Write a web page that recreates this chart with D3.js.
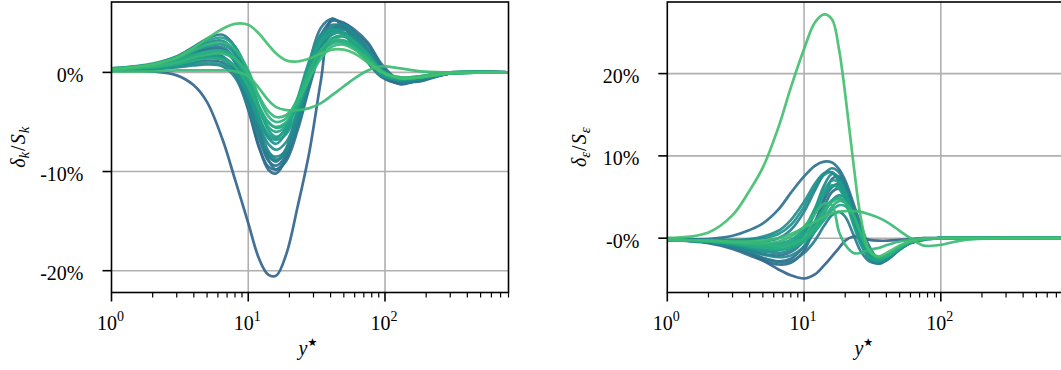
<!DOCTYPE html>
<html>
<head>
<meta charset="utf-8">
<script src="https://cdn.jsdelivr.net/npm/d3@7"></script>
<style>
  body { margin: 0; background: #fff; }
</style>
</head>
<body>
<svg id="chart" width="1061" height="370"></svg>
<script>
// y* sample positions shared by the curves of each panel
var kGrid = [1, 2, 3, 4, 5, 6.5, 8, 10, 12, 14, 16, 19, 23, 28, 34, 41, 50, 60, 75, 95, 130, 180, 300, 800];
var eGrid = [1, 2, 3, 4, 5, 6.5, 8, 10, 12, 14, 16, 18, 20, 23, 26, 30, 35, 41, 50, 60, 75, 100, 150, 300, 800];

// delta_k / S_k in %, ordered from blue to green
var kCurves = [
  [0.2, 0.1, -0.3, -1.3, -3.0, -6.8, -10.8, -15.2, -18.8, -20.4, -20.5, -18.3, -13.5, -8.0, -0.8, 5.4, 4.6, 3.0, 1.0, -0.5, -1.1, -0.8, -0.1, 0],
  [0.3, 0.6, 1.0, 1.5, 1.8, 1.6, 0.2, -3.5, -7.5, -9.8, -10.2, -8.6, -4.5, 0.5, 3.8, 5.2, 5.0, 4.0, 2.2, -0.2, -1.2, -0.7, -0.1, 0],
  [0.2, 0.4, 0.7, 1.0, 1.2, 1.0, -0.2, -3.8, -7.6, -9.5, -9.8, -8.9, -5.8, -1.5, 2.2, 4.2, 4.6, 4.0, 2.8, 0.6, -1.0, -0.8, -0.1, 0],
  [0.3, 0.6, 1.2, 1.9, 2.3, 2.3, 1.0, -2.6, -6.6, -8.9, -9.4, -8.3, -5.2, -1.0, 2.6, 4.4, 4.9, 4.3, 3.0, 0.8, -0.9, -0.9, -0.1, 0],
  [0.4, 0.8, 1.6, 2.6, 3.4, 3.8, 2.6, -1.0, -5.5, -8.8, -9.8, -8.5, -4.0, 1.0, 4.5, 5.4, 4.6, 3.2, 1.4, -0.4, -0.9, -0.5, 0, 0],
  [0.3, 0.7, 1.3, 2.0, 2.4, 2.5, 1.3, -2.0, -6.0, -8.4, -9.0, -7.6, -3.8, 0.6, 3.6, 4.8, 4.5, 3.4, 1.8, -0.2, -0.9, -0.6, -0.1, 0],
  [0.2, 0.5, 0.9, 1.3, 1.5, 1.3, 0.2, -3.0, -6.4, -8.4, -8.9, -8.0, -5.2, -1.2, 2.3, 4.0, 4.3, 3.7, 2.4, 0.4, -1.0, -0.8, -0.1, 0],
  [0.2, 0.3, 0.5, 0.7, 0.8, 0.6, -0.5, -3.5, -6.6, -8.1, -8.5, -7.8, -5.0, -1.0, 2.4, 4.1, 4.4, 3.6, 2.0, 0.0, -0.9, -0.7, -0.1, 0],
  [0.4, 0.8, 1.5, 2.4, 3.0, 3.2, 2.0, -1.3, -5.2, -7.9, -8.8, -7.9, -4.6, -0.2, 3.0, 4.6, 4.8, 3.9, 2.3, 0.2, -0.8, -0.6, -0.1, 0],
  [0.3, 0.5, 0.9, 1.3, 1.5, 1.4, 0.5, -2.2, -5.3, -7.2, -7.8, -7.0, -4.2, -0.6, 2.4, 3.8, 4.0, 3.4, 2.0, 0.1, -0.8, -0.6, -0.1, 0],
  [0.3, 0.7, 1.3, 2.1, 2.6, 2.8, 1.8, -1.0, -4.4, -6.6, -7.2, -6.0, -2.6, 1.2, 3.8, 4.4, 3.8, 2.6, 1.0, -0.4, -0.7, -0.4, 0, 0],
  [0.2, 0.4, 0.6, 0.9, 1.0, 0.8, 0.0, -2.4, -5.0, -6.5, -6.8, -6.2, -3.9, -0.7, 2.0, 3.4, 3.6, 3.0, 1.7, 0.1, -0.7, -0.5, -0.1, 0],
  [0.3, 0.6, 1.0, 1.4, 1.6, 1.5, 0.6, -1.8, -4.6, -6.2, -6.6, -5.6, -2.8, 0.9, 3.4, 4.3, 4.0, 3.0, 1.6, -0.1, -0.7, -0.5, 0, 0],
  [0.4, 0.9, 1.6, 2.5, 3.2, 3.5, 2.6, 0.0, -3.5, -5.8, -6.5, -5.6, -2.8, 0.8, 3.0, 4.0, 3.8, 2.8, 1.4, -0.2, -0.7, -0.4, 0, 0],
  [0.3, 0.6, 1.1, 1.6, 1.9, 2.0, 1.2, -1.0, -3.8, -5.5, -6.0, -5.4, -3.2, -0.3, 2.0, 3.1, 3.2, 2.7, 1.6, 0.1, -0.6, -0.5, -0.1, 0],
  [0.3, 0.7, 1.2, 1.8, 2.1, 2.2, 1.5, -0.6, -3.4, -5.0, -5.6, -5.2, -3.4, -0.5, 1.9, 3.4, 3.7, 3.1, 1.8, 0.2, -0.6, -0.5, -0.1, 0],
  [0.3, 0.5, 0.8, 1.2, 1.4, 1.3, 0.6, -1.4, -3.7, -5.1, -5.5, -5.0, -3.0, -0.4, 1.8, 2.9, 3.0, 2.5, 1.5, 0.1, -0.6, -0.5, -0.1, 0],
  [0.4, 0.8, 1.4, 2.2, 2.8, 3.0, 2.3, 0.2, -2.6, -4.4, -5.0, -4.6, -2.6, 0.2, 2.3, 3.3, 3.2, 2.5, 1.3, 0.0, -0.5, -0.4, 0, 0],
  [0.3, 0.6, 1.0, 1.5, 1.8, 1.9, 1.4, -0.2, -2.4, -3.9, -4.5, -4.3, -2.9, -0.6, 1.4, 2.6, 2.8, 2.3, 1.3, 0.1, -0.5, -0.4, 0, 0],
  [0.1, 0.1, 0.2, 0.2, 0.2, 0.2, 0.1, -0.4, -1.6, -2.8, -3.5, -3.8, -3.8, -3.6, -3.1, -2.3, -1.4, -0.6, 0.2, 0.6, 0.4, 0.1, 0, 0],
  [0.3, 0.8, 1.5, 2.5, 3.4, 4.4, 4.9, 4.8, 3.9, 2.8, 1.9, 1.2, 1.1, 1.4, 1.9, 2.3, 2.3, 1.9, 1.0, 0.0, -0.6, -0.5, -0.1, 0]
];

// delta_eps / S_eps in %, ordered from blue to green
var eCurves = [
  [0, -0.3, -0.9, -1.8, -2.7, -3.8, -4.5, -4.9, -4.4, -3.3, -2.2, -1.2, -0.3, 0.2, 0.1, -0.2, -0.3, -0.3, -0.2, -0.1, 0, 0, 0, 0, 0],
  [-0.2, -0.6, -1.3, -2.1, -2.7, -3.2, -3.0, -1.5, 1.5, 4.8, 7.2, 7.5, 6.5, 3.5, 0.5, -2.2, -3.0, -2.4, -1.2, -0.5, -0.1, 0, 0, 0, 0],
  [-0.2, -0.5, -1.1, -1.8, -2.4, -2.8, -2.5, -1.0, 1.2, 3.8, 5.6, 6.0, 5.0, 2.2, -0.5, -2.5, -3.1, -2.6, -1.4, -0.6, -0.2, 0, 0, 0, 0],
  [-0.2, -0.1, 0.3, 1.0, 1.8, 3.5, 5.5, 7.5, 8.8, 9.3, 9.2, 8.4, 7.0, 4.2, 1.6, -1.0, -2.5, -2.3, -1.3, -0.6, -0.1, 0, 0, 0, 0],
  [-0.2, -0.4, -0.9, -1.5, -1.9, -2.1, -1.7, -0.3, 2.0, 4.6, 6.2, 6.6, 5.8, 3.2, 0.4, -2.0, -2.8, -2.4, -1.3, -0.5, -0.1, 0, 0, 0, 0],
  [-0.2, -0.5, -1.1, -1.8, -2.4, -2.9, -2.8, -1.8, -0.3, 1.5, 2.8, 3.2, 2.6, 0.4, -1.6, -2.8, -3.0, -2.4, -1.3, -0.5, -0.1, 0, 0, 0, 0],
  [-0.2, -0.3, -0.4, -0.5, -0.4, 0.0, 1.0, 3.2, 5.8, 7.8, 8.5, 8.0, 6.5, 3.3, 0.4, -2.0, -2.8, -2.4, -1.3, -0.5, -0.1, 0, 0, 0, 0],
  [-0.2, -0.4, -0.8, -1.3, -1.6, -1.8, -1.4, 0.5, 3.5, 6.4, 7.8, 7.4, 5.8, 2.5, -0.4, -2.4, -2.9, -2.4, -1.3, -0.5, -0.1, 0, 0, 0, 0],
  [-0.2, -0.5, -1.0, -1.6, -2.0, -2.3, -2.1, -1.0, 0.8, 3.0, 4.6, 5.2, 4.9, 3.2, 0.8, -1.6, -2.7, -2.5, -1.4, -0.6, -0.2, 0, 0, 0, 0],
  [-0.2, -0.2, -0.2, -0.1, 0.2, 0.9, 2.2, 4.4, 6.6, 7.9, 8.0, 6.8, 5.0, 2.0, -0.6, -2.4, -2.8, -2.3, -1.2, -0.5, -0.1, 0, 0, 0, 0],
  [-0.2, -0.3, -0.3, -0.2, 0.0, 0.5, 1.6, 3.8, 6.2, 7.7, 8.0, 7.2, 5.6, 2.4, -0.3, -2.3, -2.9, -2.4, -1.3, -0.5, -0.1, 0, 0, 0, 0],
  [-0.2, -0.4, -0.8, -1.2, -1.4, -1.5, -1.0, 0.6, 3.0, 5.2, 6.4, 6.3, 5.2, 2.6, 0.0, -2.1, -2.8, -2.3, -1.2, -0.5, -0.1, 0, 0, 0, 0],
  [-0.2, -0.3, -0.5, -0.8, -1.0, -1.0, -0.6, 0.9, 3.4, 5.8, 7.0, 6.8, 5.6, 2.8, 0.2, -1.9, -2.6, -2.2, -1.2, -0.5, -0.1, 0, 0, 0, 0],
  [-0.2, -0.3, -0.4, -0.6, -0.7, -0.6, -0.2, 1.2, 3.6, 5.7, 6.4, 6.0, 4.6, 1.6, -0.8, -2.4, -2.7, -2.1, -1.1, -0.4, -0.1, 0, 0, 0, 0],
  [-0.2, -0.4, -0.7, -1.0, -1.2, -1.4, -1.2, -0.4, 0.8, 2.2, 3.4, 4.0, 3.9, 2.6, 0.6, -1.4, -2.3, -2.1, -1.2, -0.5, -0.1, 0, 0, 0, 0],
  [-0.2, -0.3, -0.5, -0.7, -0.8, -0.8, -0.5, 0.4, 2.0, 3.6, 4.6, 4.9, 4.4, 2.7, 0.5, -1.6, -2.5, -2.2, -1.2, -0.5, -0.1, 0, 0, 0, 0],
  [-0.2, -0.4, -0.6, -0.9, -1.1, -1.2, -1.0, -0.2, 1.0, 2.5, 3.8, 4.5, 4.3, 2.8, 0.5, -1.6, -2.4, -2.1, -1.1, -0.4, -0.1, 0, 0, 0, 0],
  [-0.2, -0.3, -0.5, -0.7, -0.8, -0.9, -0.7, 0.0, 1.4, 3.2, 4.4, 4.8, 4.4, 2.8, 0.6, -1.5, -2.3, -2.0, -1.1, -0.4, -0.1, 0, 0, 0, 0],
  [-0.2, -0.3, -0.5, -0.6, -0.6, -0.4, 0.2, 1.4, 3.0, 4.2, 4.0, 0.8, -0.8, -1.8, -1.8, -1.4, -1.2, -0.8, -0.4, -0.2, 0, 0, 0, 0, 0],
  [-0.2, -0.3, -0.4, -0.4, -0.3, 0.0, 0.5, 1.3, 2.0, 2.6, 3.0, 3.2, 3.3, 3.3, 3.2, 2.9, 2.5, 1.9, 0.9, 0.0, -0.9, -0.8, -0.2, 0, 0],
  [0, 0.7, 2.8, 5.8, 8.6, 13.5, 18.3, 23.0, 26.2, 27.2, 26.6, 23.0, 17.5, 9.0, 2.5, -1.5, -2.2, -1.7, -0.9, -0.4, -0.1, 0, 0, 0, 0]
];

var xTicks = [1, 10, 100];
var xTickExp = ["0", "1", "2"];
var kTicks = [-20, -10, 0];
var kTickLabels = ["-20%", "-10%", "0%"];
var eTicks = [0, 10, 20];
var eTickLabels = ["-0%", "10%", "20%"];

var serif = "'Liberation Serif', 'Times New Roman', Times, serif";
var svg = d3.select("#chart");
var top_ = 2, bottom_ = 292.5, plotW = 397;
var gridColor = "#b0b0b0";

var panels = [
  {grid: kGrid, curves: kCurves, yDomain: [-22.2, 7.1], left: 111.5, ticks: kTicks, labels: kTickLabels, sub: "k", ylabX: 25},
  {grid: eGrid, curves: eCurves, yDomain: [-6.6, 28.7], left: 667.3, ticks: eTicks, labels: eTickLabels, sub: "ε", ylabX: 586}
];

panels.forEach(function(p, pi) {
  var x = d3.scaleLog().domain([1, 800]).range([p.left, p.left + plotW]);
  var y = d3.scaleLinear().domain(p.yDomain).range([bottom_, top_]);
  var g = svg.append("g");
  var n = p.curves.length;
  var color = function(i) { return d3.interpolateViridis(0.32 + 0.38 * i / (n - 1)); };

  var clipId = "clip" + pi;
  svg.append("clipPath").attr("id", clipId)
    .append("rect").attr("x", p.left).attr("y", top_)
    .attr("width", plotW).attr("height", bottom_ - top_);

  // grid
  g.selectAll(".vgrid").data([10, 100]).enter().append("line")
    .attr("x1", function(d) { return x(d); }).attr("x2", function(d) { return x(d); })
    .attr("y1", top_).attr("y2", bottom_)
    .style("stroke", gridColor).style("stroke-width", 1.6);
  g.selectAll(".hgrid").data(p.ticks).enter().append("line")
    .attr("x1", p.left).attr("x2", p.left + plotW)
    .attr("y1", function(d) { return y(d); }).attr("y2", function(d) { return y(d); })
    .style("stroke", gridColor).style("stroke-width", 1.6);

  // curves
  var line = d3.line()
    .x(function(d, i) { return x(p.grid[i]); })
    .y(function(d) { return y(d); })
    .curve(d3.curveCatmullRom.alpha(0.5));
  g.append("g").attr("clip-path", "url(#" + clipId + ")")
    .selectAll("path").data(p.curves).enter().append("path")
    .attr("d", line)
    .style("fill", "none")
    .style("stroke", function(d, i) { return color(i); })
    .style("stroke-opacity", 0.92)
    .style("stroke-width", 2.7);

  // frame
  g.append("rect").attr("x", p.left).attr("y", top_)
    .attr("width", plotW).attr("height", bottom_ - top_)
    .style("fill", "none").style("stroke", "#000").style("stroke-width", 1.6);

  // x ticks, major and minor
  var minor = [];
  [1, 10, 100].forEach(function(dec) {
    for (var m = 2; m <= 9; m++) { if (dec * m <= 800) minor.push(dec * m); }
  });
  g.selectAll(".xmin").data(minor).enter().append("line")
    .attr("x1", function(d) { return x(d); }).attr("x2", function(d) { return x(d); })
    .attr("y1", bottom_).attr("y2", bottom_ + 5)
    .style("stroke", "#000").style("stroke-width", 1.2);
  g.selectAll(".xmaj").data(xTicks).enter().append("line")
    .attr("x1", function(d) { return x(d); }).attr("x2", function(d) { return x(d); })
    .attr("y1", bottom_).attr("y2", bottom_ + 9)
    .style("stroke", "#000").style("stroke-width", 1.6);
  var xl = g.selectAll(".xlab").data(xTicks).enter().append("text")
    .attr("x", function(d) { return x(d) - 1; })
    .attr("y", 330)
    .style("font-family", serif)
    .style("font-size", "20px")
    .style("text-anchor", "middle");
  xl.append("tspan").text("10");
  xl.append("tspan").attr("dy", -9).style("font-size", "14px")
    .text(function(d, i) { return xTickExp[i]; });

  // y ticks
  g.selectAll(".ymaj").data(p.ticks).enter().append("line")
    .attr("x1", p.left - 9).attr("x2", p.left)
    .attr("y1", function(d) { return y(d); }).attr("y2", function(d) { return y(d); })
    .style("stroke", "#000").style("stroke-width", 1.6);
  g.selectAll(".ylab").data(p.ticks).enter().append("text")
    .attr("x", p.left - 28)
    .attr("y", function(d) { return y(d) + 9.5; })
    .style("font-family", serif)
    .style("font-size", "20px")
    .style("text-anchor", "end")
    .text(function(d, i) { return p.labels[i]; });

  // axis titles
  var xt = g.append("text")
    .attr("x", p.left + plotW / 2 - 2).attr("y", 355)
    .style("font-family", serif)
    .style("font-size", "20px").style("text-anchor", "middle");
  xt.append("tspan").style("font-style", "italic").text("y");
  xt.append("tspan").attr("dy", -9).style("font-size", "11px")
    .style("font-family", "'DejaVu Sans'").text("★");

  var yt = g.append("text")
    .attr("transform", "translate(" + p.ylabX + "," + ((top_ + bottom_) / 2) + ") rotate(-90)")
    .style("font-family", serif)
    .style("font-size", "20px").style("text-anchor", "middle");
  yt.append("tspan").style("font-style", "italic").text("δ");
  yt.append("tspan").attr("dy", 4).style("font-size", "15px").style("font-style", "italic").text(p.sub);
  yt.append("tspan").attr("dy", -4).attr("dx", 1).text("/");
  yt.append("tspan").attr("dx", 1).style("font-style", "italic").text("S");
  yt.append("tspan").attr("dy", 4).attr("dx", 1).style("font-size", "15px").style("font-style", "italic").text(p.sub);
});
</script>
</body>
</html>
